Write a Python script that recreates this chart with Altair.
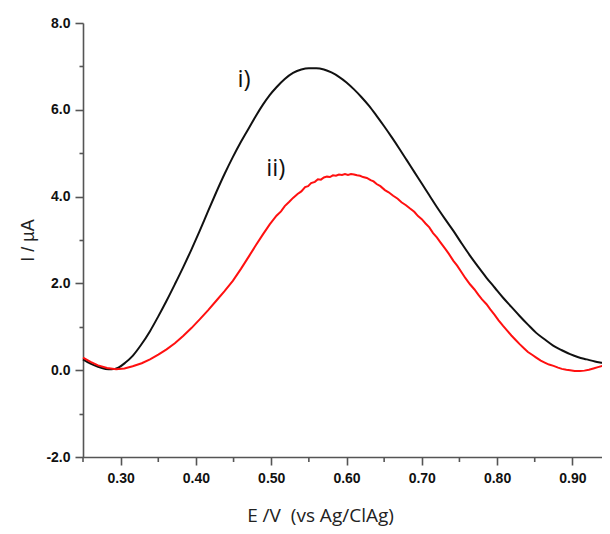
import altair as alt
import pandas as pd

# Curve i) (black)
black_e = [0.250, 0.260, 0.270, 0.280, 0.288, 0.297, 0.306, 0.316, 0.327, 0.339,
           0.350, 0.361, 0.372, 0.383, 0.394, 0.405, 0.416, 0.427, 0.438, 0.449,
           0.460, 0.471, 0.480, 0.489, 0.498, 0.507, 0.518, 0.529, 0.540, 0.550,
           0.560, 0.570, 0.580, 0.590, 0.600, 0.610, 0.620, 0.630, 0.640, 0.650,
           0.660, 0.670, 0.680, 0.690, 0.700, 0.710, 0.720, 0.731, 0.742, 0.753,
           0.764, 0.775, 0.786, 0.797, 0.808, 0.819, 0.830, 0.841, 0.852, 0.864,
           0.875, 0.886, 0.897, 0.908, 0.919, 0.930, 0.940, 0.950]
black_i = [0.25, 0.15, 0.08, 0.03, 0.02, 0.06, 0.17, 0.33, 0.58, 0.90,
           1.24, 1.60, 1.98, 2.37, 2.78, 3.21, 3.66, 4.10, 4.52, 4.91,
           5.27, 5.60, 5.87, 6.12, 6.34, 6.52, 6.71, 6.85, 6.93, 6.96,
           6.96, 6.93, 6.86, 6.76, 6.63, 6.47, 6.29, 6.09, 5.86, 5.62,
           5.37, 5.11, 4.84, 4.57, 4.30, 4.03, 3.76, 3.48, 3.21, 2.92,
           2.64, 2.38, 2.13, 1.90, 1.67, 1.46, 1.25, 1.05, 0.86, 0.70,
           0.56, 0.46, 0.37, 0.30, 0.25, 0.20, 0.17, 0.14]

# Curve ii) (red)
red_e = [0.250, 0.260, 0.270, 0.282, 0.294, 0.305, 0.316, 0.328, 0.339, 0.350,
         0.361, 0.372, 0.383, 0.394, 0.405, 0.416, 0.427, 0.438, 0.449, 0.460,
         0.471, 0.480, 0.489, 0.498, 0.507, 0.513, 0.518, 0.524, 0.529, 0.535,
         0.540, 0.545, 0.549, 0.553, 0.558, 0.562, 0.566, 0.570, 0.574, 0.578,
         0.582, 0.586, 0.590, 0.594, 0.598, 0.602, 0.606, 0.610, 0.614, 0.618,
         0.622, 0.627, 0.632, 0.636, 0.640, 0.645, 0.651, 0.656, 0.662, 0.668,
         0.673, 0.679, 0.684, 0.690, 0.695, 0.700, 0.705, 0.710, 0.715, 0.720,
         0.725, 0.731, 0.736, 0.742, 0.747, 0.753, 0.758, 0.764, 0.770, 0.775,
         0.780, 0.786, 0.791, 0.797, 0.802, 0.808, 0.814, 0.819, 0.825, 0.830,
         0.836, 0.841, 0.847, 0.852, 0.858, 0.864, 0.869, 0.875, 0.881, 0.886,
         0.892, 0.897, 0.903, 0.910, 0.916, 0.922, 0.928, 0.934, 0.940, 0.945,
         0.950]
red_i = [0.29, 0.19, 0.11, 0.05, 0.02, 0.04, 0.09, 0.16, 0.25, 0.36,
         0.48, 0.62, 0.79, 0.97, 1.17, 1.38, 1.60, 1.82, 2.06, 2.34,
         2.64, 2.89, 3.13, 3.36, 3.56, 3.66, 3.78, 3.88, 3.97, 4.06,
         4.12, 4.22, 4.24, 4.31, 4.34, 4.40, 4.39, 4.44, 4.46, 4.45,
         4.49, 4.48, 4.51, 4.50, 4.52, 4.50, 4.52, 4.51, 4.49, 4.48,
         4.45, 4.43, 4.38, 4.35, 4.29, 4.24, 4.15, 4.10, 4.02, 3.95,
         3.87, 3.80, 3.73, 3.65, 3.55, 3.48, 3.38, 3.29, 3.16, 3.06,
         2.94, 2.80, 2.68, 2.52, 2.41, 2.25, 2.12, 1.98, 1.86, 1.74,
         1.63, 1.52, 1.40, 1.27, 1.15, 1.02, 0.90, 0.80, 0.69, 0.60,
         0.50, 0.42, 0.35, 0.29, 0.22, 0.17, 0.13, 0.10, 0.06, 0.03,
         0.01, 0.00, -0.02, -0.02, -0.01, 0.01, 0.04, 0.07, 0.10, 0.13,
         0.17]

label_text = ["i)", "ii)"]
label_e = [0.464, 0.506]
label_i = [6.68, 4.64]

x_major_ticks = [0.30, 0.40, 0.50, 0.60, 0.70, 0.80, 0.90]
x_minor_ticks = [0.25, 0.35, 0.45, 0.55, 0.65, 0.75, 0.85, 0.95]
y_ticks = [-2, -1, 0, 1, 2, 3, 4, 5, 6, 7, 8]

black_df = pd.DataFrame({"E": black_e, "I": black_i})
red_df = pd.DataFrame({"E": red_e, "I": red_i})
label_df = pd.DataFrame({"E": label_e, "I": label_i, "t": label_text})
minor_df = pd.DataFrame({"E": x_minor_ticks})

W, H = 527, 434
axis_color = "#555555"

x_enc = alt.X(
    "E:Q",
    scale=alt.Scale(domain=[0.25, 0.95], nice=False, zero=False),
    axis=alt.Axis(
        values=x_major_ticks,
        format=".2f",
        tickSize=8,
        title="E /V\u00a0\u00a0(vs Ag/ClAg)",
        titleFont="Open Sans",
        titleFontSize=19,
        titleFontWeight="normal",
        titleColor="#222222",
        titlePadding=21,
        titleX=237,
        labelPadding=6,
        labelFlush=False,
        labelOverlap=False,
    ),
)
y_enc = alt.Y(
    "I:Q",
    scale=alt.Scale(domain=[-2, 8], nice=False, zero=False),
    axis=alt.Axis(
        values=y_ticks,
        labelExpr="datum.value % 2 == 0 ? (datum.value < 0 ? '-' : '') + format(abs(datum.value), '.1f') : ''",
        tickSize={"expr": "datum.value % 2 == 0 ? 8 : 4"},
        title="I / µA",
        titleFont="Liberation Sans",
        titleFontSize=18,
        titleFontWeight="normal",
        titleColor="#222222",
        titlePadding=8,
        labelPadding=5,
        labelFlush=False,
        labelOverlap=False,
    ),
)

black_line = alt.Chart(black_df).mark_line(color="#111111", strokeWidth=2, interpolate="monotone").encode(x=x_enc, y=y_enc)
red_line = alt.Chart(red_df).mark_line(color="#ff1010", strokeWidth=2).encode(x="E:Q", y="I:Q")
minor_ticks = alt.Chart(minor_df).mark_rule(color=axis_color, strokeWidth=1.6).encode(
    x="E:Q", y=alt.value(H), y2=alt.value(H + 5)
)
labels = alt.Chart(label_df).mark_text(font="Open Sans", fontSize=24, color="#111111").encode(
    x="E:Q", y="I:Q", text="t:N"
)

chart = (
    alt.layer(black_line, red_line, minor_ticks, labels)
    .properties(
        width=W,
        height=H,
        autosize=alt.AutoSizeParams(type="none"),
        padding={"left": 75, "top": 15, "right": -8, "bottom": 74},
    )
    .configure_view(stroke=None)
    .configure_axis(
        grid=False,
        domainColor=axis_color,
        domainWidth=1.6,
        tickColor=axis_color,
        tickWidth=1.6,
        labelFont="Liberation Sans",
        labelFontSize=14,
        labelFontWeight="bold",
        labelColor="#111111",
    )
)

chart.save("out.html", embed_options={"renderer": "svg", "actions": False})
